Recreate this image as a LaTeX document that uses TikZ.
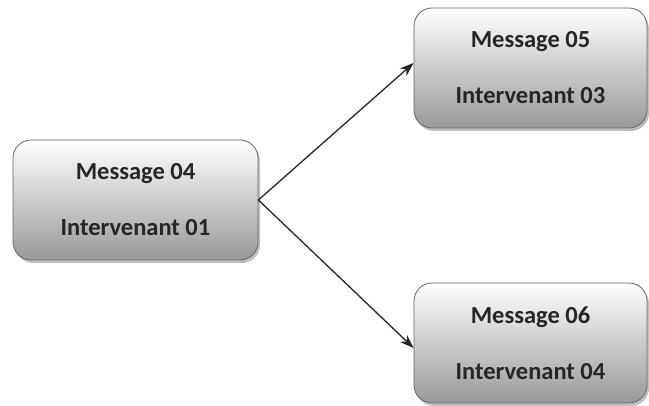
\documentclass[tikz,border=0pt]{standalone}
\usepackage{fontspec}
\setmainfont{Carlito}
\usepackage{tikz}
\usetikzlibrary{positioning}
\usetikzlibrary{arrows.meta, shadows}

\begin{document}
\begin{tikzpicture}[x=1pt, y=-1pt]

 \tikzset{msgbox/.style={
 		draw=black!60,
 		line width=0.8pt,
 		rounded corners=18pt,
 		top color=white,
 		bottom color=black!40,
 		drop shadow={shadow xshift=2pt, shadow yshift=-3pt, fill=black!50, opacity=0.5},
 		minimum width=#1,
 		minimum height=120pt,
 		align=center,
 		inner sep=0pt,
 		font=\fontsize{24.5}{29}\selectfont\bfseries,
 		text=black!85
 	},
 	msgbox/.default=233pt,
 	link/.style={-{Stealth[length=14pt, width=10pt]}, line width=1.3pt, black!85}
 }
 \useasboundingbox (0,0) rectangle (649,406);
 %boxes
 \node[msgbox=245pt] (msg04) at (135.5,200) {Message 04\\[27pt]Intervenant 01};
 \node[msgbox] (msg05) at (530.5,68) {Message 05\\[27pt]Intervenant 03};
 \node[msgbox] (msg06) at (530.5,343) {Message 06\\[27pt]Intervenant 04};
 %links
 \draw[link] (msg04.east) -- ([yshift=5pt]msg05.west);
 \draw[link] (msg04.east) -- ([yshift=-5pt]msg06.west);
\end{tikzpicture}
\end{document}
